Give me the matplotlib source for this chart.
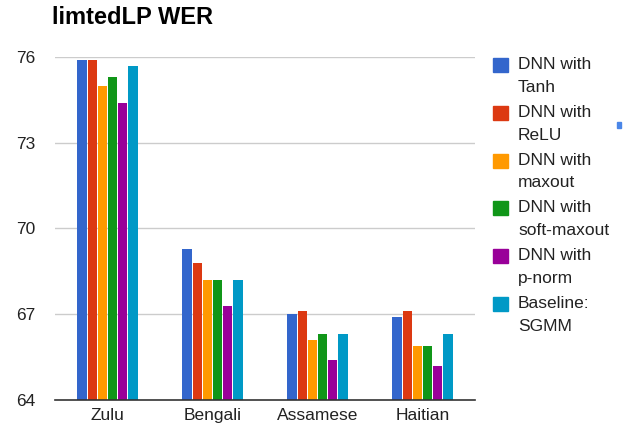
import numpy as np
import matplotlib
matplotlib.use("Agg")
import matplotlib.pyplot as plt
from matplotlib.patches import Rectangle

plt.rcParams['font.family'] = ['Liberation Sans', 'DejaVu Sans']

# Datos
languages = ["Zulu", "Bengali", "Assamese", "Haitian"]
series_names = ["DNN with\nTanh", "DNN with\nReLU", "DNN with\nmaxout",
                "DNN with\nsoft-maxout", "DNN with\np-norm", "Baseline:\nSGMM"]
tanh = [75.9, 69.3, 67.0, 66.9]
relu = [75.9, 68.8, 67.1, 67.1]
maxout = [75.0, 68.2, 66.1, 65.9]
soft_maxout = [75.3, 68.2, 66.3, 65.9]
p_norm = [74.4, 67.3, 65.4, 65.2]
baseline = [75.7, 68.2, 66.3, 66.3]
y_ticks = [64, 67, 70, 73, 76]

series = [tanh, relu, maxout, soft_maxout, p_norm, baseline]
colors = ["#3366cc", "#dc3912", "#ff9900", "#109618", "#990099", "#0099c6"]

W, H = 632, 430
fig = plt.figure(figsize=(W / 100, H / 100), dpi=100)
ax = fig.add_axes([55 / W, 30 / H, 420 / W, 343 / H])

x = np.arange(len(languages))
step = 0.097
for i, (vals, col) in enumerate(zip(series, colors)):
    offs = (i - 2.5) * step
    ax.bar(x + offs, np.array(vals) - 64, bottom=64, width=step * 0.9,
           color=col, zorder=3)

ax.set_xlim(-0.5, 3.5)
ax.set_ylim(64, 76)
ax.set_yticks(y_ticks)
ax.set_yticklabels([str(t) for t in y_ticks])
ax.set_xticks(x)
ax.set_xticklabels(languages)
ax.tick_params(axis='both', length=0, labelsize=12.5, colors="#222222")
ax.tick_params(axis='y', pad=14)
ax.tick_params(axis='x', pad=6)

for t in y_ticks[1:]:
    ax.axhline(t, color="#cccccc", linewidth=1, zorder=1)
for s in ["top", "right", "left"]:
    ax.spines[s].set_visible(False)
ax.spines["bottom"].set_color("#333333")
ax.spines["bottom"].set_linewidth(1.2)
ax.spines["bottom"].set_zorder(4)

# Título
fig.text(52 / W, 1 - 6 / H, "limtedLP WER", fontsize=17, fontweight="bold",
         va="top", ha="left", color="#000000")

# Leyenda manual
y0 = 58
for i, (name, col) in enumerate(zip(series_names, colors)):
    top = y0 + i * 47.8
    fig.patches.append(Rectangle((493 / W, 1 - (top + 14) / H), 15 / W, 14 / H,
                                 transform=fig.transFigure, color=col, figure=fig))
    fig.text(518 / W, 1 - (top - 1) / H, name, fontsize=12.5, va="top", ha="left",
             color="#222222", linespacing=1.65)

# Punto azul suelto
fig.patches.append(Rectangle((617 / W, 1 - 128 / H), 4 / W, 6 / H,
                             transform=fig.transFigure, color="#4a86e8", figure=fig))

plt.savefig("out.png", dpi=100)
plt.close()
